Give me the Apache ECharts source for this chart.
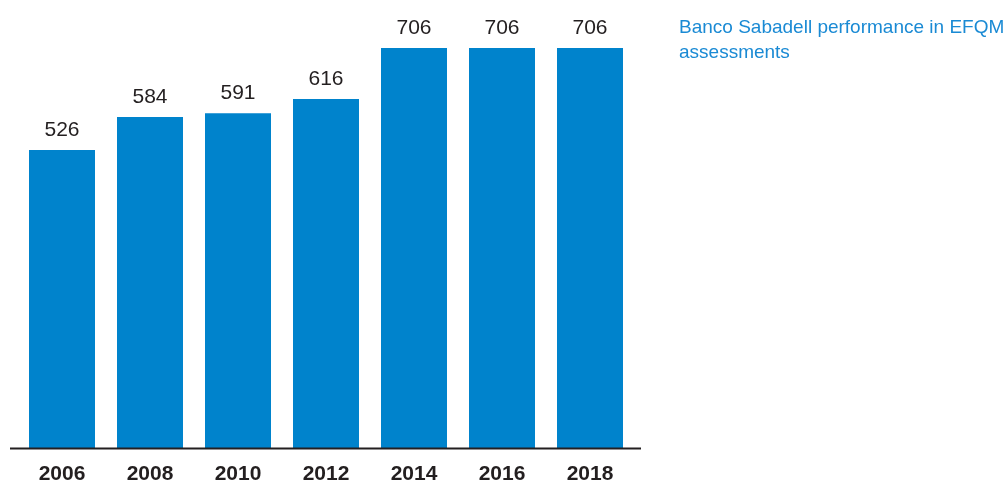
<!DOCTYPE html>
<html><head><meta charset="utf-8">
<script src="https://cdn.jsdelivr.net/npm/echarts@6/dist/echarts.min.js"></script>
<style>html,body{margin:0;padding:0;background:#fff}#c{width:1007px;height:481px}</style>
</head><body><div id="c"></div>
<script>
const categories = ['2006','2008','2010','2012','2014','2016','2018'];
const scores = [526, 584, 591, 616, 706, 706, 706];
const titleLines = ['Banco Sabadell performance in EFQM', 'assessments'];
const yMax = 706;

const chart = echarts.init(document.getElementById('c'), null, {renderer:'canvas'});
chart.setOption({
  animation: false,
  grid: {left: 18, right: 373, top: 48, bottom: 33, containLabel: false, outerBoundsMode: 'none'},
  xAxis: {
    type: 'category', data: categories,
    axisLine: {show: false}, axisTick: {show: false},
    axisLabel: {color: '#231f20', fontWeight: 'bold', fontSize: 21, fontFamily: 'Liberation Sans, Arial, sans-serif', margin: 16}
  },
  yAxis: {type: 'value', min: 0, max: yMax, show: false, splitLine: {show: false}},
  series: [{
    type: 'bar', data: scores, barCategoryGap: '25%',
    itemStyle: {color: '#0083cc'},
    label: {show: true, position: 'top', distance: 9, color: '#231f20', fontSize: 21, fontFamily: 'Liberation Sans, Arial, sans-serif'}
  }],
  graphic: [
    {type: 'line', shape: {x1: 10, y1: 448.5, x2: 641, y2: 448.5}, style: {stroke: '#231f20', lineWidth: 2}, z: 10},
    {type: 'text', left: 679, top: 15, style: {text: titleLines.join('\n'), fill: '#1a8ad4', font: '19px "Liberation Sans", Arial, sans-serif', lineHeight: 25}}
  ]
});
</script></body></html>
